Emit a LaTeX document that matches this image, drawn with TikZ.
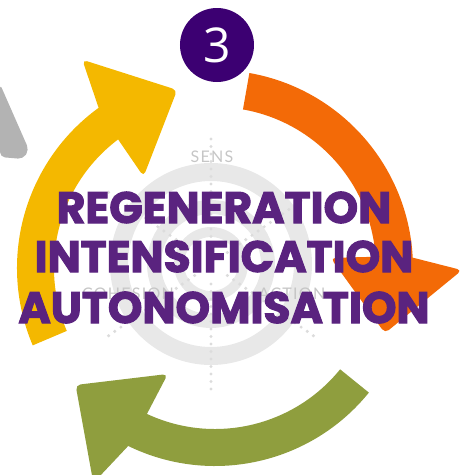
\documentclass[tikz,border=0pt]{standalone}
\usepackage{fontspec}
\newfontfamily\poppins{Poppins}[BoldFeatures={FakeBold=2.5}]
\newfontfamily\opensans{Open Sans}
\newfontfamily\labelfont{Lato}[LetterSpace=8]
\definecolor{arrowYellow}{HTML}{F4B800}
\definecolor{arrowOrange}{HTML}{F36A07}
\definecolor{arrowGreen}{HTML}{8F9E3E}
\definecolor{arrowGray}{HTML}{B3B3B3}
\definecolor{stepPurple}{HTML}{3C0072}
\definecolor{titlePurple}{HTML}{5A237F}
\definecolor{ringGray}{HTML}{E8E8E8}
\definecolor{dotGray}{HTML}{DCDCDC}
\definecolor{labelGray}{HTML}{C6C6C6}
\tikzset{
  bigword/.style={font=\poppins\bfseries\fontsize{44}{44}\selectfont, text=titlePurple, anchor=base, inner sep=0pt},
  ringlabel/.style={font=\labelfont\fontsize{16}{16}\selectfont, text=labelGray, inner sep=0pt},
  ring/.style={draw=ringGray},
  stepdisc/.style={circle, fill=stepPurple, minimum size=74pt, inner sep=0pt, text=white, font=\opensans\fontsize{48}{48}\selectfont}
}
\begin{document}
\begin{tikzpicture}[x=1pt, y=1pt]
  \useasboundingbox (-215,-207) rectangle (248,268);

  % backdrop: rings and dotted rays
  \begin{scope}[shift={(-4,4)}]
    \draw[ring, line width=18pt] (0,0) circle (92);
    \draw[ring, line width=14pt] (0,0) circle (57);
    \draw[ring, line width=10pt] (0,0) circle (32);
    \foreach \ang in {90,270,35,145,215,325}
      \foreach \r in {20,27.5,...,125}
        \fill[dotGray] (\ang:\r) circle (1.7);
  \end{scope}
  \node[ringlabel] (sens) at (-3,111) {SENS};
  \node[ringlabel] (action) at (77,-26) {ACTION};
  \node[ringlabel] (cohesion) at (-87,-26) {COHESION};

  % previous step, cut at the edge
  \fill[arrowGray, rounded corners=5pt] (-215,184) -- (-186,118) -- (-192,109) -- (-215,111) -- cycle;

  % the three arrows of the cycle
  \foreach \tail/\col in {203/arrowYellow, 80/arrowOrange, 321/arrowGreen}
    \fill[\col] (\tail:161) -- (\tail:198)
      arc[start angle=\tail, end angle=\tail-77, radius=198]
      [rounded corners=5pt] -- ({\tail-80.5}:247) -- ({\tail-101}:182) -- ({\tail-75}:116)
      [sharp corners] -- ({\tail-76}:161)
      arc[start angle=\tail-76, end angle=\tail, radius=161] -- cycle;

  \node[stepdisc] (step) at (2,223) {3};

  \node[bigword] (regen) at (9,45) {REGENERATION};
  \node[bigword] (intens) at (9,-4) {INTENSIFICATION};
  \node[bigword] (autonom) at (9,-55) {AUTONOMISATION};
\end{tikzpicture}
\end{document}
